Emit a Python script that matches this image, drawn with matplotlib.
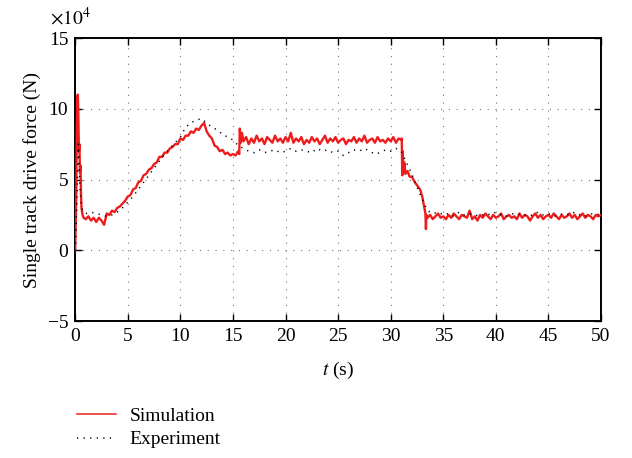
import numpy as np
import matplotlib
matplotlib.use("Agg")
import matplotlib.pyplot as plt

# force values in units of 1e4 N
sim_head_t = [0.0, 0.1, 0.15, 0.2, 0.25, 0.3, 0.35, 0.4, 0.45, 0.5, 0.55, 0.6, 0.7, 0.8,
              1.0, 1.25, 1.5, 1.75, 2.0, 2.25, 2.5, 2.75, 3.0]
sim_head = [0.0, 4.0, 8.5, 10.8, 11.0, 9.5, 7.0, 7.5, 5.5, 6.0, 4.0, 3.0, 2.5, 2.3,
            2.2, 2.4, 2.1, 2.3, 2.0, 2.3, 2.1, 1.8, 2.6]

# 3.25 .. 15.5 s, every 0.25 s
sim_rise = [2.5, 2.8, 2.7, 3.0, 3.1, 3.3, 3.5, 3.8,
            3.9, 4.3, 4.4, 4.8, 4.9, 5.3, 5.4, 5.7,
            5.8, 6.1, 6.2, 6.6, 6.6, 6.9, 6.9, 7.2,
            7.3, 7.5, 7.5, 7.9, 7.8, 8.1, 8.1, 8.4,
            8.3, 8.6, 8.5, 8.8, 9.0, 8.4, 8.1, 7.9,
            7.4, 7.3, 7.0, 7.1, 6.8, 6.9, 6.7, 6.8,
            6.7, 7.0]

sim_jump_t = [15.6, 15.65, 15.75, 15.85]
sim_jump = [6.8, 8.6, 7.6, 8.3]

# 16 .. 31 s, every 0.25 s
sim_plateau = [7.7, 8.0, 7.5, 7.9, 7.6, 8.1, 7.7, 7.9, 7.5, 8.0, 7.8, 7.6, 8.1, 7.7, 7.9,
               7.6, 8.0, 7.7, 8.3, 7.6, 7.9, 7.7, 8.0, 7.5, 7.8, 7.6, 8.0, 7.7, 7.9, 7.5,
               7.8, 8.1, 7.6, 7.9, 7.7, 8.0, 7.6, 7.8, 7.9, 7.5, 7.8, 7.7, 8.0, 7.6, 7.9,
               7.7, 8.1, 7.6, 7.8, 7.9, 7.6, 8.0, 7.7, 7.8, 7.6, 7.9, 7.7, 8.0, 7.6, 7.9,
               7.8]

sim_drop_t = [31.05, 31.1, 31.15, 31.2, 31.3, 31.4, 31.6, 31.8, 32.0, 32.3, 32.6, 32.8,
              33.0, 33.2, 33.3, 33.35, 33.4]
sim_drop = [7.9, 5.3, 7.0, 5.5, 6.2, 5.4, 5.6, 5.2, 5.2, 4.8, 4.5, 4.3,
            3.8, 3.0, 2.6, 1.5, 2.5]

# 33.5 .. 50 s, every 0.25 s
sim_tail = [2.3, 2.5, 2.2, 2.4, 2.6, 2.3, 2.4, 2.2, 2.5, 2.3, 2.6, 2.4, 2.2, 2.5, 2.4,
            2.3, 2.8, 2.2, 2.4, 2.1, 2.5, 2.3, 2.6, 2.4, 2.2, 2.5, 2.3, 2.4, 2.6, 2.2,
            2.4, 2.5, 2.3, 2.4, 2.2, 2.6, 2.3, 2.5, 2.4, 2.1, 2.4, 2.6, 2.3, 2.5, 2.2,
            2.4, 2.5, 2.3, 2.6, 2.4, 2.2, 2.5, 2.3, 2.4, 2.6, 2.3, 2.5, 2.2, 2.4, 2.6,
            2.3, 2.5, 2.4, 2.2, 2.5, 2.4, 2.5]

exp_head_t = [0.0, 0.15, 0.3, 0.45, 0.6, 0.8, 1.0]
exp_head = [0.0, 3.0, 7.5, 4.5, 3.0, 2.7, 2.6]

# 1.5 .. 34 s, every 0.5 s
exp_main = [2.7, 2.6, 2.5, 2.4, 2.5, 2.7, 3.0, 3.4, 3.8, 4.3, 4.8, 5.3, 5.8, 6.3,
            6.8, 7.2, 7.6, 8.0, 8.7, 9.0, 9.2, 9.3, 9.0, 8.7, 8.5, 8.2, 8.0, 7.8,
            7.4, 7.2, 7.0, 6.9, 7.1, 6.9, 7.0, 7.1, 6.9, 7.0, 7.2, 7.0, 7.1, 7.0,
            6.9, 7.2, 7.0, 7.1, 6.9, 7.0, 6.7, 6.9, 7.1, 7.0, 7.2, 7.0, 6.8, 6.9,
            7.1, 7.0, 7.2, 7.0, 6.2, 5.4, 4.5, 3.6, 2.8, 2.6]

# 34.5 .. 50 s, every 0.5 s
exp_tail = [2.7, 2.5, 2.6, 2.4, 2.7, 2.5, 2.6, 2.5, 2.4, 2.6, 2.5, 2.7, 2.5, 2.4,
            2.6, 2.5, 2.6, 2.4, 2.5, 2.7, 2.5, 2.6, 2.4, 2.5, 2.6, 2.5, 2.7, 2.5,
            2.4, 2.6, 2.5, 2.6]

sim_t = np.concatenate([sim_head_t, np.linspace(3.25, 15.5, len(sim_rise)), sim_jump_t,
                        np.linspace(16, 31, len(sim_plateau)), sim_drop_t,
                        np.linspace(33.5, 50, len(sim_tail))])
sim_y = np.concatenate([sim_head, sim_rise, sim_jump, sim_plateau, sim_drop, sim_tail])
exp_t = np.concatenate([exp_head_t, np.linspace(1.5, 34, len(exp_main)),
                        np.linspace(34.5, 50, len(exp_tail))])
exp_y = np.concatenate([exp_head, exp_main, exp_tail])

plt.rcParams['font.family'] = ['Liberation Serif', 'DejaVu Serif']
plt.rcParams['mathtext.fontset'] = 'stix'

fig = plt.figure(figsize=(6.32, 4.58), dpi=100)
ax = fig.add_axes([0.119, 0.299, 0.832, 0.618])

ax.plot(sim_t, sim_y, color='#ee1c1c', lw=1.7, label='Simulation', zorder=3)
ax.plot(exp_t, exp_y, color='black', lw=1.1, linestyle=(0, (0.8, 3.5)),
        label='Experiment', zorder=4)

ax.set_xlim(0, 50)
ax.set_ylim(-5, 15)
ax.set_xticks(np.arange(0, 51, 5))
ax.set_yticks([-5, 0, 5, 10, 15])
ax.grid(True, color='#777777', linestyle=(0, (1, 6)), lw=0.8)
ax.tick_params(direction='in', top=True, right=True, length=5, width=1,
               labelsize=14, pad=5)
for s in ax.spines.values():
    s.set_linewidth(1.4)

ax.set_xlabel('$t$ (s)', fontsize=14, labelpad=11)
ax.set_ylabel('Single track drive force (N)', fontsize=14, labelpad=5)
fig.text(0.079, 0.947, r'$\times10^{4}$', fontsize=14)

leg = ax.legend(loc='upper left', bbox_to_anchor=(0.107, 0.132),
                bbox_transform=fig.transFigure, frameon=False, fontsize=14,
                handlelength=2.0, labelspacing=0.3, borderpad=0, handletextpad=0.7)
for line in leg.get_lines():
    line.set_linewidth(1.1)

fig.savefig('out.png', dpi=100)
